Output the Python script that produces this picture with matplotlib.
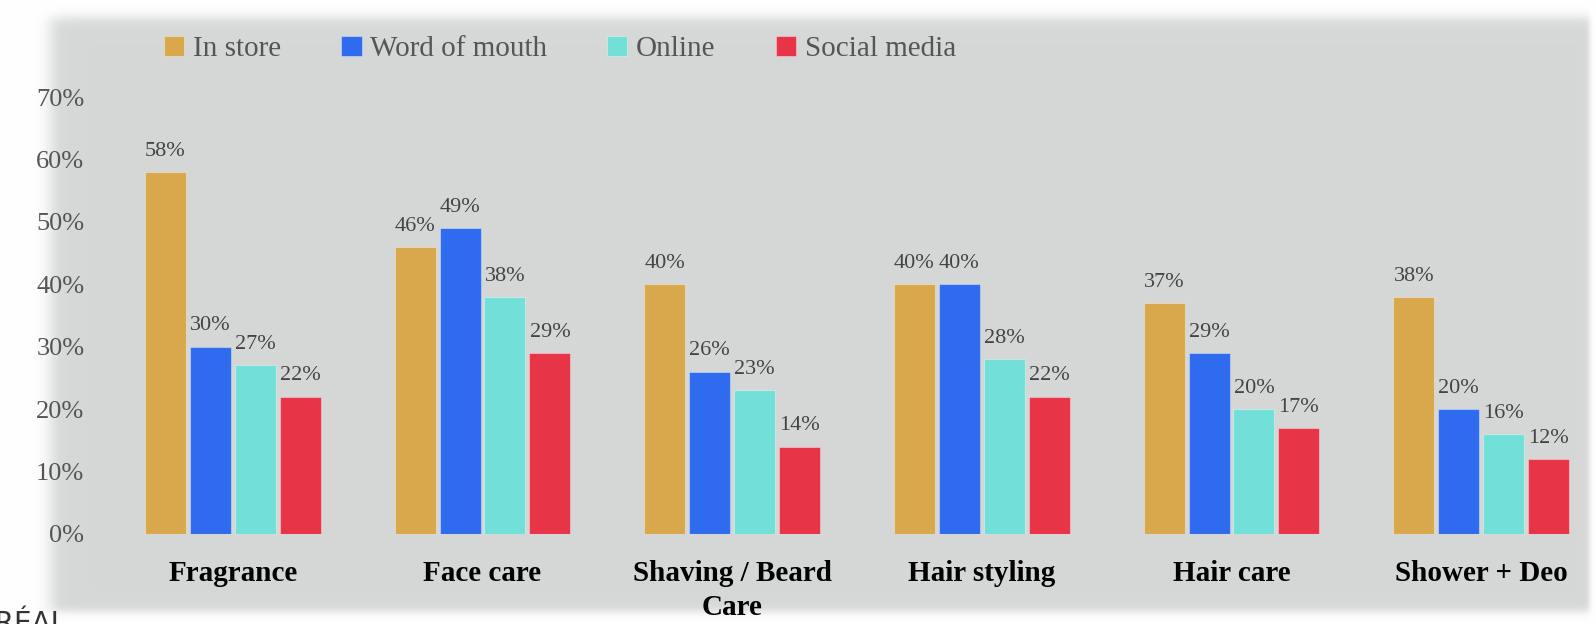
import numpy as np
import matplotlib.pyplot as plt

categories = ['Fragrance', 'Face care', 'Shaving / Beard\nCare', 'Hair styling', 'Hair care', 'Shower + Deo']
series = ['In store', 'Word of mouth', 'Online', 'Social media']
in_store = [58, 46, 40, 40, 37, 38]
word_of_mouth = [30, 49, 26, 40, 29, 20]
online = [27, 38, 23, 28, 20, 16]
social_media = [22, 29, 14, 22, 17, 12]
colors = ['#D9A84C', '#2E6BEF', '#72E0D8', '#E83447']
yticks = [0, 10, 20, 30, 40, 50, 60, 70]

W, H = 1596, 624
plt.rcParams['font.family'] = ['Liberation Serif', 'DejaVu Serif']

fig = plt.figure(figsize=(W / 100, H / 100), dpi=100)
fig.patch.set_facecolor('white')

# soft grey card behind the chart
bg = fig.add_axes([0, 0, 1, 1], zorder=-5)
xx, yy = np.meshgrid(np.arange(W), np.arange(H))
def ramp(d, s):
    return 0.5 * (1 + np.tanh(d / s))
mask = ramp(xx - 50, 9) * ramp(1589 - xx, 3) * ramp(yy - 17, 7) * ramp(611 - yy, 5)
panel = np.array([0.839, 0.847, 0.843])
img = 1 - mask[..., None] * (1 - panel)
bg.imshow(img, extent=[0, W, H, 0], aspect='auto', interpolation='bilinear')
bg.set_xlim(0, W)
bg.set_ylim(H, 0)
bg.axis('off')

left, right = 108, 1606
bottom, top = 534, 97
ax = fig.add_axes([left / W, (H - bottom) / H, (right - left) / W, (bottom - top) / H])
ax.set_facecolor('none')

x = np.arange(len(categories))
step = 0.18
width = 0.164
data = [in_store, word_of_mouth, online, social_media]
for i, (name, vals, c) in enumerate(zip(series, data, colors)):
    pos = x + (i - 1.5) * step
    ax.bar(pos, vals, width, color=c, edgecolor=(1, 1, 1, 0.35), linewidth=0.8, label=name)
    for px, v in zip(pos, vals):
        ax.text(px, v + 1.8, f'{v}%', ha='center', va='bottom', fontsize=16, color='#444444')

ax.set_xlim(-0.5, 5.5)
ax.set_ylim(0, 70)
ax.set_yticks(yticks)
ax.set_yticklabels([f'{t}%' for t in yticks], fontsize=19, color='#555555')
ax.set_xticks(x)
ax.set_xticklabels(categories, fontsize=21, fontweight='bold', color='black', linespacing=1.3)
ax.tick_params(axis='y', length=0, pad=17)
ax.tick_params(axis='x', length=0, pad=19)
for s in ax.spines.values():
    s.set_visible(False)

handles, labels = ax.get_legend_handles_labels()
fig.legend(handles, labels, loc='center left', bbox_to_anchor=(164 / W, 1 - 49 / H), ncol=4,
           frameon=False, fontsize=21, handlelength=0.7, handleheight=0.7, handletextpad=0.3,
           columnspacing=2.05, borderpad=0, borderaxespad=0, labelcolor='#555555')

fig.text(66 / W, 1 - 610 / H, "L'ORÉAL", ha='right', va='top', fontsize=20,
         color='#333333', family='DejaVu Sans')

fig.savefig('out.png', dpi=100)
